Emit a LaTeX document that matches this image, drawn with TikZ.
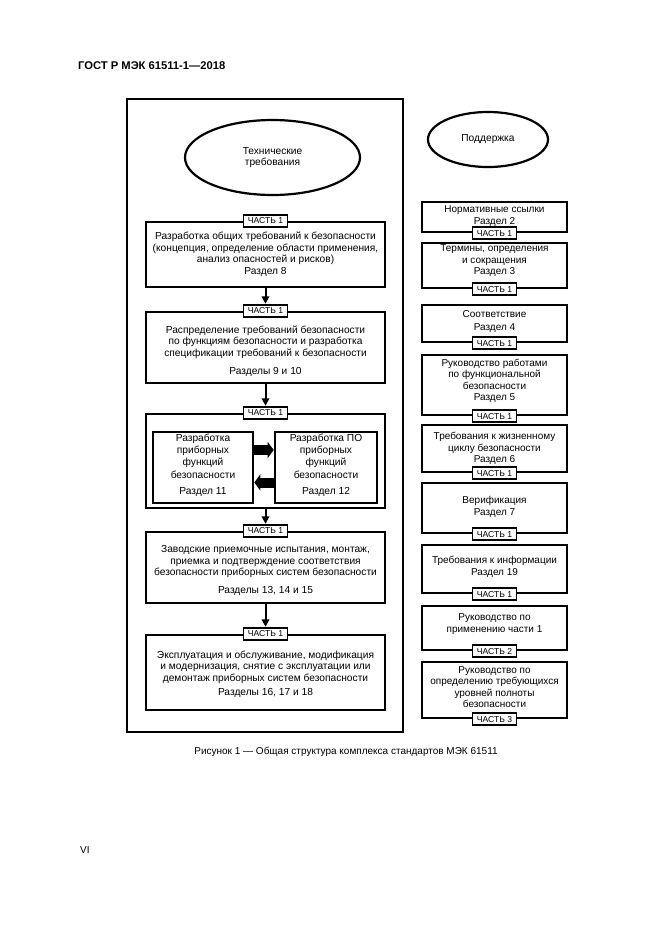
\documentclass[tikz,border=0pt]{standalone}
\usepackage{fontspec}
\setmainfont{Liberation Sans}
\usetikzlibrary{shapes.geometric,arrows.meta}
\begin{document}
\begin{tikzpicture}[x=1pt,y=-1pt,
  box/.style={draw, line width=2.6pt, inner sep=0pt},
  outer/.style={draw, line width=2pt, inner sep=0pt},
  tag/.style={draw, line width=1.8pt, fill=white, inner sep=0pt, minimum width=44pt, minimum height=12pt, font=\fontsize{8.6}{9}\selectfont},
  txt/.style={align=center, inner sep=0pt, font=\fontsize{10.2}{11.5}\selectfont},
  rtxt/.style={align=center, inner sep=0pt, font=\fontsize{10}{11.5}\selectfont},
  arr/.style={line width=2pt, -{Triangle[width=7.5pt,length=7.5pt]}},
  fat/.style={line width=10pt, -{Triangle[width=16pt,length=6pt]}},
  ell/.style={ellipse, draw, line width=2.2pt, inner sep=0pt, align=center, font=\fontsize{10.2}{11.5}\selectfont}]
\useasboundingbox (0,0) rectangle (661,935);
\fill[white] (0,0) rectangle (661,935);

% header, caption, page number
\node[anchor=west, inner sep=0pt, font=\bfseries\fontsize{11.2}{12}\selectfont] (hdr) at (78,66) {ГОСТ Р МЭК 61511-1—2018};
\node[inner sep=0pt, font=\fontsize{10}{11}\selectfont] (cap) at (346,752) {Рисунок 1 — Общая структура комплекса стандартов МЭК 61511};
\node[anchor=west, inner sep=0pt, font=\fontsize{10}{11}\selectfont] (pg) at (80,850) {VI};

% left column
\node[outer, minimum width=276pt, minimum height=633pt] (out) at (265,415.5) {};
\node[ell, minimum width=175pt, minimum height=75pt] (e1) at (272.5,157.5) {Технические\\требования};

\node[box, minimum width=239pt, minimum height=65pt] (b1) at (265.5,254.5) {};
\node[txt] (b1t) at (265.5,254) {Разработка общих требований к безопасности\\(концепция, определение области применения,\\анализ опасностей и рисков)\\Раздел 8};
\node[tag] (t1) at (b1.north) {ЧАСТЬ 1};

\node[box, minimum width=239pt, minimum height=71pt] (b2) at (265.5,347.5) {};
\node[txt] (b2t) at (265.5,351) {Распределение требований безопасности\\по функциям безопасности и разработка\\спецификации требований к безопасности\\[7pt]Разделы 9 и 10};
\node[tag] (t2) at (b2.north) {ЧАСТЬ 1};

\node[box, minimum width=239pt, minimum height=94pt] (b3) at (265.5,461) {};
\node[tag] (t3) at (b3.north) {ЧАСТЬ 1};
\node[box, minimum width=100pt, minimum height=71pt] (b3l) at (203,467.5) {};
\node[txt, font=\fontsize{10.2}{12.3}\selectfont] (b3lt) at (203,465) {Разработка\\приборных\\функций\\безопасности\\[4pt]Раздел 11};
\node[box, minimum width=102pt, minimum height=71pt] (b3r) at (326,467.5) {};
\node[txt, font=\fontsize{10.2}{12.3}\selectfont] (b3rt) at (326,465) {Разработка ПО\\приборных\\функций\\безопасности\\[4pt]Раздел 12};
\draw[fat] ([yshift=17.5pt]b3l.east) -- ([yshift=17.5pt]b3r.west);
\draw[fat] ([yshift=-15pt]b3r.west) -- ([yshift=-15pt]b3l.east);

\node[box, minimum width=239pt, minimum height=71pt] (b4) at (265.5,567.5) {};
\node[txt] (b4t) at (265.5,570.5) {Заводские приемочные испытания, монтаж,\\приемка и подтверждение соответствия\\безопасности приборных систем безопасности\\[6pt]Разделы 13, 14 и 15};
\node[tag] (t4) at (b4.north) {ЧАСТЬ 1};

\node[box, minimum width=239pt, minimum height=75pt] (b5) at (265.5,672.5) {};
\node[txt] (b5t) at (265.5,674.5) {Эксплуатация и обслуживание, модификация\\и модернизация, снятие с эксплуатации или\\демонтаж приборных систем безопасности\\[3pt]Разделы 16, 17 и 18};
\node[tag] (t5) at (b5.north) {ЧАСТЬ 1};

\draw[arr] (b1.south) -- (t2.north);
\draw[arr] (b2.south) -- (t3.north);
\draw[arr] (b3.south) -- (t4.north);
\draw[arr] (b4.south) -- (t5.north);

% right column
\node[ell, minimum width=120pt, minimum height=55pt] (e2) at (488,139.5) {Поддержка};

\node[box, minimum width=145pt, minimum height=30pt] (r1) at (494.5,217) {};
\node[rtxt] (r1t) at (494.5,216) {Нормативные ссылки\\Раздел 2};
\node[tag] (s1) at (r1.south) {ЧАСТЬ 1};

\node[box, minimum width=145pt, minimum height=45pt] (r2) at (494.5,265.5) {};
\node[rtxt] (r2t) at (494.5,261) {Термины, определения\\и сокращения\\Раздел 3};
\node[tag] (s2) at (r2.south) {ЧАСТЬ 1};

\node[box, minimum width=145pt, minimum height=37pt] (r3) at (494.5,323.5) {};
\node[rtxt] (r3t) at (494.5,321.5) {Соответствие\\[1.5pt]Раздел 4};
\node[tag] (s3) at (r3.south) {ЧАСТЬ 1};

\node[box, minimum width=145pt, minimum height=60pt] (r4) at (494.5,385) {};
\node[rtxt] (r4t) at (494.5,381) {Руководство работами\\по функциональной\\безопасности\\Раздел 5};
\node[tag] (s4) at (r4.south) {ЧАСТЬ 1};

\node[box, minimum width=145pt, minimum height=47pt] (r5) at (494.5,448.5) {};
\node[rtxt] (r5t) at (494.5,448.5) {Требования к жизненному\\циклу безопасности\\Раздел 6};
\node[tag] (s5) at (r5.south) {ЧАСТЬ 1};

\node[box, minimum width=145pt, minimum height=50pt] (r6) at (494.5,508) {};
\node[rtxt] (r6t) at (494.5,507) {Верификация\\[1pt]Раздел 7};
\node[tag] (s6) at (r6.south) {ЧАСТЬ 1};

\node[box, minimum width=145pt, minimum height=48pt] (r7) at (494.5,569) {};
\node[rtxt] (r7t) at (494.5,567) {Требования к информации\\[0.5pt]Раздел 19};
\node[tag] (s7) at (r7.south) {ЧАСТЬ 1};

\node[box, minimum width=145pt, minimum height=44pt] (r8) at (494.5,628) {};
\node[rtxt] (r8t) at (494.5,624) {Руководство по\\[0.5pt]применению части 1};
\node[tag] (s8) at (r8.south) {ЧАСТЬ 2};

\node[box, minimum width=145pt, minimum height=56pt] (r9) at (494.5,690) {};
\node[rtxt] (r9t) at (494.5,687) {Руководство по\\определению требующихся\\уровней полноты\\безопасности};
\node[tag] (s9) at (r9.south) {ЧАСТЬ 3};
\end{tikzpicture}
\end{document}
